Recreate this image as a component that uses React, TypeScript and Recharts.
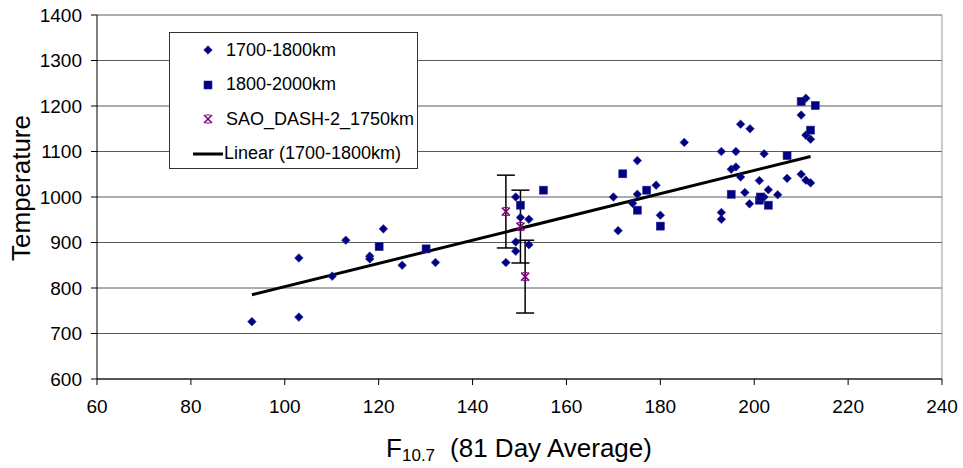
import React from "react";
import {
  ScatterChart,
  Scatter,
  XAxis,
  YAxis,
  CartesianGrid,
  ErrorBar,
  ReferenceLine,
} from "recharts";

// 1700-1800km (diamonds)
const lowX = [
  93, 103, 103, 110.1, 113, 118.1, 118.1, 121, 125, 132.1, 147.1, 149.2, 150.2,
  152, 149.2, 149.2, 152, 185.1, 175.1, 179.1, 170, 175.1, 174.1, 180, 171,
  197.1, 199.1, 193, 196.1, 202.1, 195.1, 196.1, 197.1, 201.1, 198, 203, 205,
  199, 202.1, 207, 210, 211, 210, 211, 212, 211, 212, 193, 193,
];
const lowY = [
  726, 736, 866, 826, 905, 870, 864, 930, 850, 856, 856, 1000, 955, 951, 901,
  881, 895, 1120, 1080, 1026, 1000, 1006, 986, 960, 926, 1160, 1150, 1100,
  1100, 1095, 1061, 1066, 1044, 1036, 1010, 1016, 1005, 985, 1000, 1041, 1180,
  1217, 1050, 1037, 1031, 1136, 1127, 966, 951,
];

// 1800-2000km (squares)
const highX = [
  120.1, 130.1, 150.2, 155.1, 172, 177.1, 175.1, 180, 195.1, 201.1, 201.3, 203,
  207, 210, 213, 212,
];
const highY = [
  891, 886, 982, 1015, 1051, 1015, 971, 936, 1006, 993, 1000, 982, 1091, 1210,
  1201, 1147,
];

// SAO_DASH-2_1750km with error bars
const saoX = [147.1, 150.2, 151.2];
const saoY = [968, 935, 825];
const saoErr = [80, 80, 80];

// Linear (1700-1800km) trendline end points
const trendX = [93, 212];
const trendY = [785, 1089];

const xTicks = [60, 80, 100, 120, 140, 160, 180, 200, 220, 240];
const yTicks = [600, 700, 800, 900, 1000, 1100, 1200, 1300, 1400];

const lowData = lowX.map((x, i) => ({ x, y: lowY[i] }));
const highData = highX.map((x, i) => ({ x, y: highY[i] }));
const saoData = saoX.map((x, i) => ({ x, y: saoY[i], err: saoErr[i] }));
const trendData = trendX.map((x, i) => ({ x, y: trendY[i] }));

const NAVY = "#000080";
const PURPLE = "#800080";
const FONT = "'Liberation Sans', Arial, sans-serif";

const Diamond = ({ cx, cy }: any) => (
  <polygon
    points={`${cx},${cy - 4.3} ${cx + 4.3},${cy} ${cx},${cy + 4.3} ${cx - 4.3},${cy}`}
    fill={NAVY}
    stroke="#2a2a9a"
    strokeWidth={0.6}
  />
);

const Square = ({ cx, cy }: any) => (
  <rect x={cx - 4} y={cy - 4} width={8} height={8} fill={NAVY} stroke="#2a2a9a" strokeWidth={0.6} />
);

const Star = ({ cx, cy }: any) => (
  <g stroke={PURPLE} strokeWidth={1.6}>
    <line x1={cx - 4} y1={cy - 4} x2={cx + 4} y2={cy + 4} />
    <line x1={cx - 4} y1={cy + 4} x2={cx + 4} y2={cy - 4} />
    <line x1={cx - 2.5} y1={cy - 4} x2={cx + 2.5} y2={cy - 4} strokeWidth={1} />
    <line x1={cx - 2.5} y1={cy + 4} x2={cx + 2.5} y2={cy + 4} strokeWidth={1} />
  </g>
);

const legendItems = [
  { name: "1700-1800km", icon: "diamond" },
  { name: "1800-2000km", icon: "square" },
  { name: "SAO_DASH-2_1750km", icon: "star" },
  { name: "Linear (1700-1800km)", icon: "line" },
];

function LegendBox() {
  return (
    <div
      style={{
        position: "absolute",
        left: 169,
        top: 32,
        width: 249,
        height: 137,
        boxSizing: "border-box",
        border: "1px solid #333",
        background: "#fff",
        fontFamily: FONT,
        fontSize: 18,
        color: "#000",
      }}
    >
      {legendItems.map((it) => (
        <div key={it.name} style={{ height: 34.5, display: "flex", alignItems: "center" }}>
          <svg width={32} height={20} style={{ marginLeft: 22 }}>
            {it.icon === "diamond" && <Diamond cx={16} cy={10} />}
            {it.icon === "square" && <Square cx={16} cy={10} />}
            {it.icon === "star" && <Star cx={16} cy={10} />}
            {it.icon === "line" && <line x1={1} y1={10} x2={31} y2={10} stroke="#000" strokeWidth={3} />}
          </svg>
          <span style={{ marginLeft: it.icon === "line" ? 0 : 2, whiteSpace: "nowrap" }}>{it.name}</span>
        </div>
      ))}
    </div>
  );
}

export default function App() {
  return (
    <div style={{ position: "absolute", left: 0, top: 0, width: 963, height: 468, background: "#fff" }}>
      <ScatterChart width={963} height={468} margin={{ top: 15, right: 21, left: 0, bottom: 0 }}>
        <CartesianGrid horizontal vertical={false} stroke="#5a5a5a" />
        <ReferenceLine x={240} stroke="#999" />
        <XAxis
          type="number"
          dataKey="x"
          domain={[60, 240]}
          ticks={xTicks}
          height={89}
          stroke="#000"
          tickSize={6}
          tickMargin={15}
          tick={{ fill: "#000", fontSize: 19, fontFamily: FONT }}
          label={() => (
            <text x={519} y={457} textAnchor="middle" fontFamily={FONT} fontSize={26} fill="#000">
              F<tspan fontSize={17} dy={4}>10.7</tspan>
              <tspan dy={-4} dx={15}>(81 Day Average)</tspan>
            </text>
          )}
        />
        <YAxis
          type="number"
          dataKey="y"
          domain={[600, 1400]}
          ticks={yTicks}
          width={97}
          stroke="#000"
          tickSize={6}
          tickMargin={9}
          tick={{ fill: "#000", fontSize: 19, fontFamily: FONT }}
          label={() => (
            <text
              x={30}
              y={188}
              transform="rotate(-90, 30, 188)"
              textAnchor="middle"
              fontFamily={FONT}
              fontSize={26}
              fill="#000"
            >
              Temperature
            </text>
          )}
        />
        <Scatter
          name="Linear (1700-1800km)"
          data={trendData}
          line={{ stroke: "#000", strokeWidth: 3 }}
          shape={() => <g />}
          isAnimationActive={false}
        />
        <Scatter name="1700-1800km" data={lowData} shape={Diamond} isAnimationActive={false} />
        <Scatter name="1800-2000km" data={highData} shape={Square} isAnimationActive={false} />
        <Scatter name="SAO_DASH-2_1750km" data={saoData} shape={Star} isAnimationActive={false}>
          <ErrorBar dataKey="err" direction="y" width={9} stroke="#000" strokeWidth={1.5} />
        </Scatter>
      </ScatterChart>
      <LegendBox />
    </div>
  );
}
